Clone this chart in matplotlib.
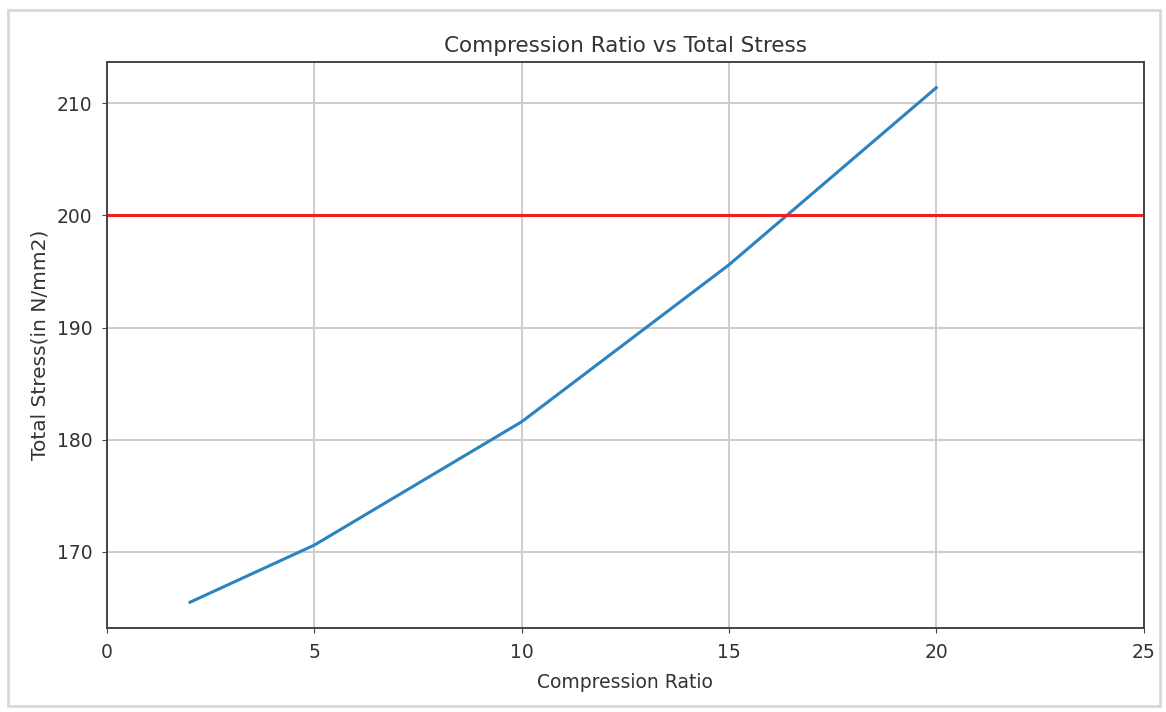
import matplotlib
matplotlib.use("Agg")
import matplotlib.pyplot as plt
from matplotlib.patches import Rectangle

# Compression ratio and resulting total stress
compression_ratio = [2, 5, 10, 15, 20]
total_stress = [165.5, 170.6, 181.6, 195.6, 211.4]
stress_limit = 200
x_ticks = [0, 5, 10, 15, 20, 25]

plt.rcParams['font.family'] = ['DejaVu Sans']

fig = plt.figure(figsize=(11.66, 7.12), dpi=100)
ax = fig.add_axes([0.0918, 0.118, 0.889, 0.795])

ax.plot(compression_ratio, total_stress, color='#2b83c0', linewidth=2.2)
ax.axhline(stress_limit, color='#f02020', linewidth=2.2)

ax.set_xlim(x_ticks[0], x_ticks[-1])
ax.set_xticks(x_ticks)
ax.grid(True, color='#cccccc', linewidth=1.4)
ax.set_axisbelow(True)

ax.set_title('Compression Ratio vs Total Stress', fontsize=15.5, color='#333333', pad=7)
ax.set_xlabel('Compression Ratio', fontsize=13.5, color='#333333', labelpad=8)
ax.set_ylabel('Total Stress(in N/mm2)', fontsize=14.5, color='#333333', labelpad=5)
ax.tick_params(labelsize=13.5, labelcolor='#333333', color='#444444', pad=7)
for sp in ax.spines.values():
    sp.set_color('#444444')
    sp.set_linewidth(1.4)

# soft frame around the figure
fig.patches.append(Rectangle((0.007, 0.008), 0.988, 0.978, transform=fig.transFigure,
                             fill=False, edgecolor='#d8d8d8', linewidth=2))

fig.savefig('out.png', dpi=100)
